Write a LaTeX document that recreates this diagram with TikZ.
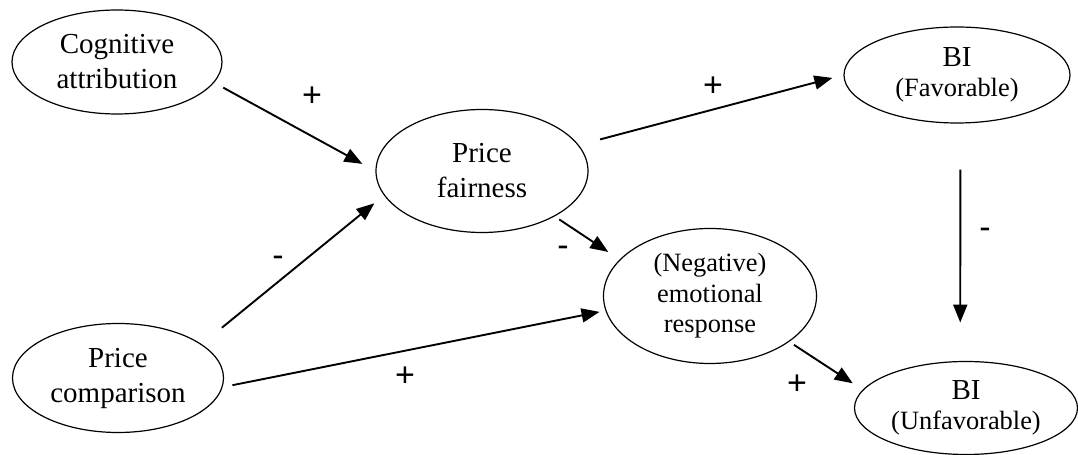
\documentclass[tikz,border=0pt]{standalone}
\usepackage{fontspec}
\setmainfont{Liberation Serif}
\newfontfamily\signfont{Liberation Sans}
\usetikzlibrary{shapes.geometric, arrows.meta}
\tikzset{
	construct/.style={ellipse, draw=black, line width=0.6pt, inner sep=0pt, align=center, font=\fontsize{14.5}{17.5}\selectfont},
	constructsm/.style={construct, font=\fontsize{13.2}{15.3}\selectfont},
	link/.style={-{Triangle[length=9pt,width=7pt]}, line width=0.95pt},
	sign/.style={font=\signfont\fontsize{17}{17}\selectfont, inner sep=0pt},
}
\begin{document}
\begin{tikzpicture}[x=0.5pt, y=0.5pt]
	\useasboundingbox (0,0) rectangle (1078,455);
	% constructs
	\node[construct, minimum width=105pt, minimum height=52pt] (cog) at (117,393) {Cognitive\\attribution};
	\node[construct, minimum width=106pt, minimum height=61.5pt] (pf) at (482,284) {Price\\fairness};
	\node[construct, minimum width=105.5pt, minimum height=54.5pt] (pc) at (118,77) {Price\\comparison};
	\node[constructsm, minimum width=106.5pt, minimum height=67.5pt] (ner) at (710,159) {(Negative)\\emotional\\response};
	\node[constructsm, minimum width=113pt, minimum height=48pt] (bif) at (957,380) {{\fontsize{14.5}{15.5}\selectfont BI}\\(Favorable)};
	\node[constructsm, minimum width=111.5pt, minimum height=46.5pt] (biu) at (966,47) {{\fontsize{14.5}{15.5}\selectfont BI}\\(Unfavorable)};
	% paths
	\draw[link, shorten <=5.2pt, shorten >=7.4pt] (cog.-12) -- (pf.180);
	\draw[link, shorten <=13pt, shorten >=6.2pt] (pc.22) -- (pf.194);
	\draw[link, shorten <=5pt, shorten >=3pt] (pc.-5) -- (ner.188);
	\draw[link, shorten <=11pt, shorten >=5.7pt] (pf.15) -- (bif.180);
	\draw[link, shorten <=2.7pt, shorten >=6.8pt] (pf.-32) -- (ner.158);
	\draw[link, shorten <=23pt, shorten >=19.2pt] (bif.-86.4) -- (biu.97.4);
	\draw[link, shorten <=2.8pt, shorten >=5.9pt] (ner.-30) -- (biu.170);
	% signs
	\node[sign] (s1) at (312,358) {+};
	\node[sign] (s2) at (278,194) {-};
	\node[sign] (s3) at (405,78) {+};
	\node[sign] (s4) at (713,368) {+};
	\node[sign] (s5) at (563,204) {-};
	\node[sign] (s6) at (985,222) {-};
	\node[sign] (s7) at (797,70) {+};
\end{tikzpicture}
\end{document}
